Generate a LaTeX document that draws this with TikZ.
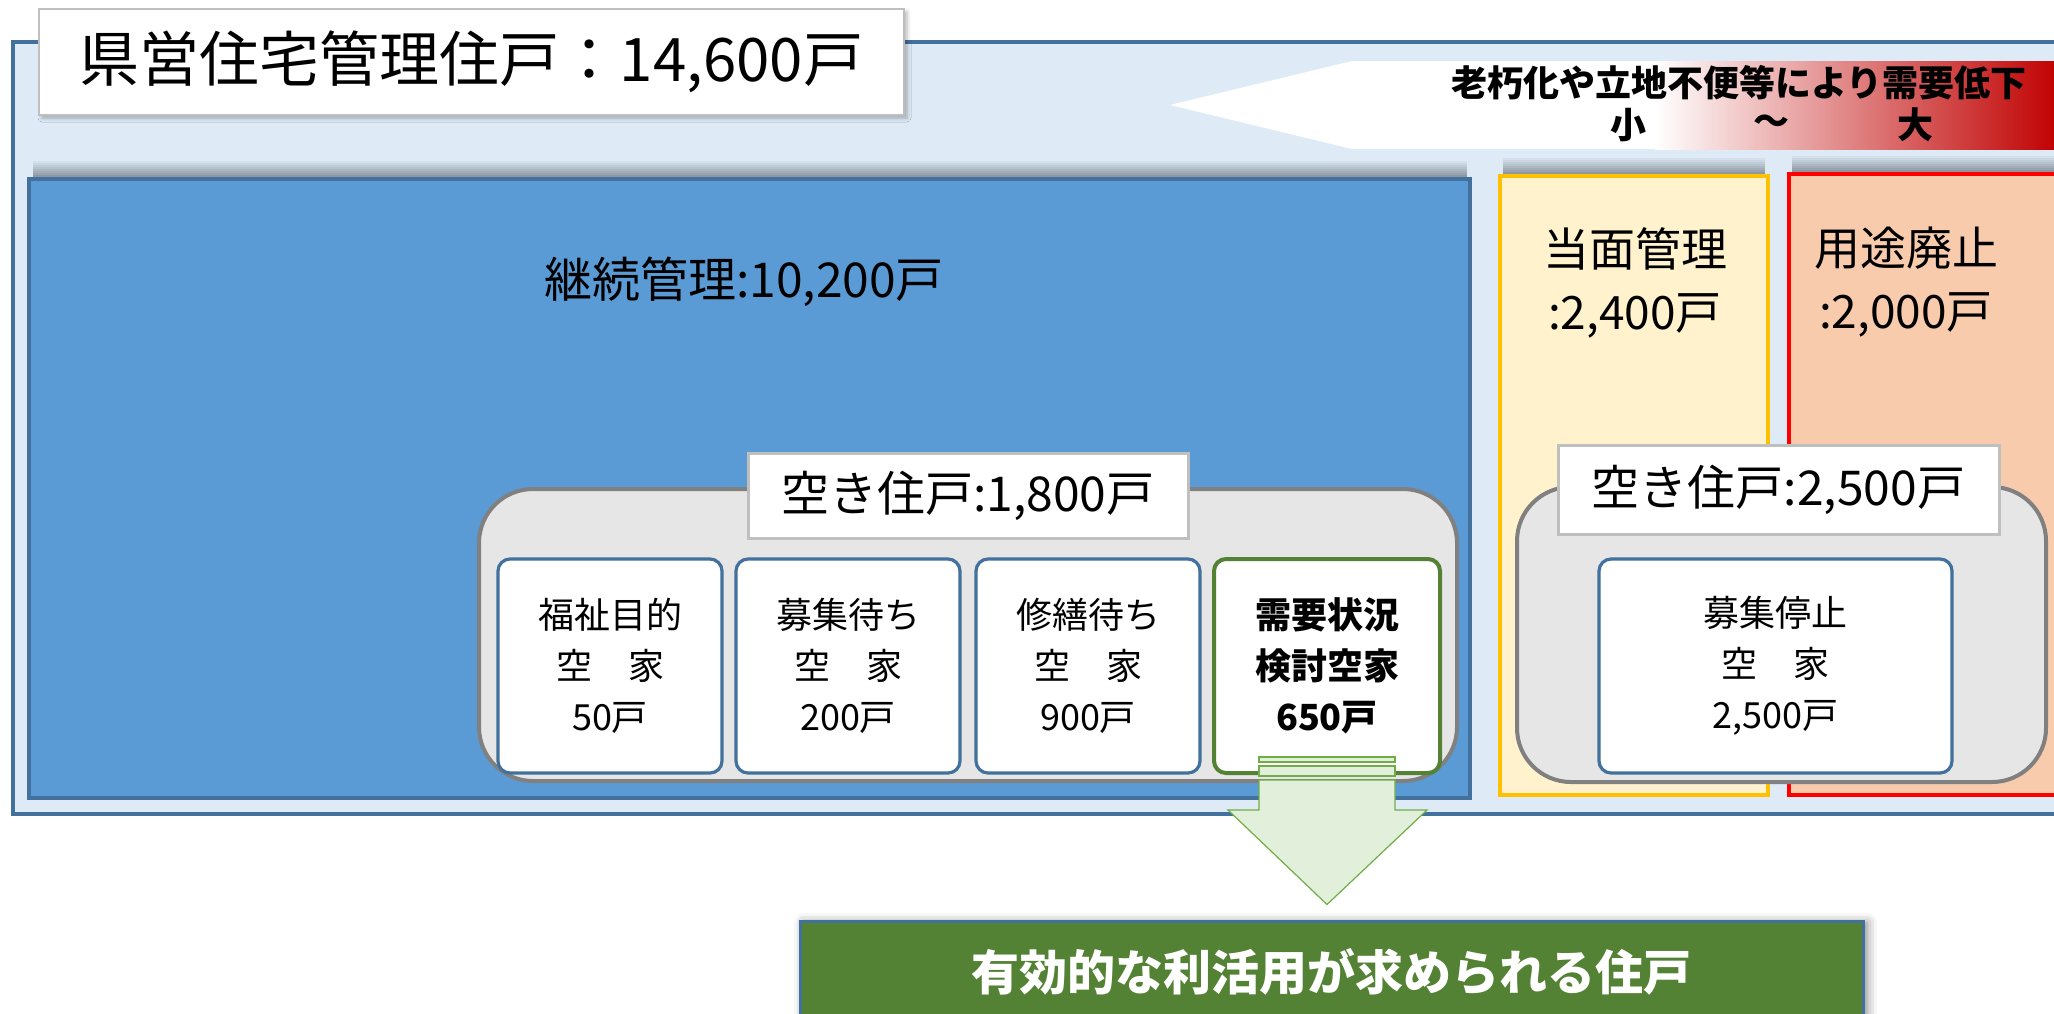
\documentclass[tikz,border=0pt]{standalone}
\usepackage{fontspec}
\setmainfont{Noto Sans CJK JP}
\usetikzlibrary{shadows.blur,calc}
\definecolor{panelfill}{HTML}{DEEBF7}
\definecolor{panelline}{HTML}{41719C}
\definecolor{bluefill}{HTML}{5B9BD5}
\definecolor{yelfill}{HTML}{FFF2CC}
\definecolor{yelline}{HTML}{FFC000}
\definecolor{redfill}{HTML}{F8CBAD}
\definecolor{redline}{HTML}{FF0000}
\definecolor{grayfill}{HTML}{E7E6E6}
\definecolor{grayline}{HTML}{808080}
\definecolor{lblline}{HTML}{BFBFBF}
\definecolor{greenline}{HTML}{548235}
\definecolor{arrowfill}{HTML}{E2EFDA}
\definecolor{arrowline}{HTML}{70AD47}
\definecolor{darkred}{HTML}{C00000}
\definecolor{shadowgray}{HTML}{838D97}
% shadow band above a box: left x, right x, top y (px)
\newcommand\myshadowband[3]{%
  \foreach \i in {0,...,8} {%
    \pgfmathtruncatemacro\pct{(\i+1)*11}%
    \fill[shadowgray!\pct!panelfill] (#1,{#3-18+2*\i}) rectangle (#2,{#3-15.5+2*\i});
  }%
}
\begin{document}
\begin{tikzpicture}[x=0.5pt,y=-0.5pt,
  topbox/.style={draw, rectangle, inner sep=0pt, line width=1.6pt},
  groupbox/.style={draw=grayline, fill=grayfill, line width=2pt, rounded corners=27pt, inner sep=0pt},
  lblbox/.style={draw=lblline, fill=white, line width=1.5pt, inner sep=0pt, font=\fontsize{24}{28}\selectfont},
  itembox/.style={draw=panelline, fill=white, line width=1.6pt, rounded corners=6pt, inner sep=0pt,
    minimum width=112pt, minimum height=107pt, align=center, font=\fontsize{18}{25.5}\selectfont},
  bigtxt/.style={font=\fontsize{23}{31.5}\selectfont, align=center},
  arrowpart/.style={fill=arrowfill, draw=arrowline, line width=0.6pt}
]
\useasboundingbox (0,0) rectangle (2054,1013);
\clip (0,0) rectangle (2054,1013);

% outer panel
\draw[fill=panelfill, draw=panelline, line width=2pt] (13,42) rectangle (2080,814);

% title
\node[draw=lblline, fill=white, line width=1pt, inner sep=0pt,
  minimum width=432.5pt, minimum height=53pt,
  blur shadow={shadow xshift=1.5pt, shadow yshift=-1.5pt, shadow blur radius=2pt, shadow opacity=30},
  font=\fontsize{30}{36}\selectfont] (title) at (471.5,62) {県営住宅管理住戸：14,600戸};

% demand arrow with gradient
\fill[white] (1170,105) -- (1352,61) -- (2060,61) -- (2060,149) -- (1352,149) -- cycle;
\shade[left color=white, right color=darkred] (1655,61) rectangle (2060,149);
\node[font=\bfseries\fontsize{18}{22}\selectfont] (demand) at (1739,83) {老朽化や立地不便等により需要低下};
\node[font=\bfseries\fontsize{18}{22}\selectfont] (small) at (1628,125) {小};
\node[font=\bfseries\fontsize{18}{22}\selectfont] (tilde) at (1771,125) {～};
\node[font=\bfseries\fontsize{18}{22}\selectfont] (large) at (1915,125) {大};

% shadows above the category boxes
\myshadowband{33}{1467}{179}
\myshadowband{1503}{1765}{176}
\myshadowband{1792}{2080}{174}

% three category boxes
\node[topbox, fill=bluefill, draw=panelline, minimum width=720.5pt, minimum height=309.5pt] (keizoku) at (749.5,488.5) {};
\node[font=\fontsize{24}{28}\selectfont] (keizokuT) at (744,282) {継続管理:10,200戸};

\node[topbox, fill=yelfill, draw=yelline, line width=2pt, minimum width=134pt, minimum height=309.5pt] (tomen) at (1634,485.5) {};
\node[bigtxt] (tomenT) at (1635,282.5) {当面管理\\:2,400戸};

\node[topbox, fill=redfill, draw=redline, line width=2pt, minimum width=145.5pt, minimum height=310.5pt] (haishi) at (1934.5,484.5) {};
\node[bigtxt] (haishiT) at (1906,282.5) {用途廃止\\:2,000戸};

% vacant group (left)
\node[groupbox, minimum width=489pt, minimum height=146pt] (akiL) at (968,635) {};
\node[lblbox, minimum width=220pt, minimum height=42.5pt] (akiLT) at (968,495.5) {空き住戸:1,800戸};
\node[itembox] (d1) at (610,666) {福祉目的\\空　家\\50戸};
\node[itembox] (d2) at (848,666) {募集待ち\\空　家\\200戸};
\node[itembox] (d3) at (1088,666) {修繕待ち\\空　家\\900戸};
\node[itembox, draw=greenline, line width=2pt, minimum width=113pt, font=\bfseries\fontsize{18}{25.5}\selectfont] (d4) at (1327,666) {需要状況\\検討空家\\650戸};

% vacant group (right)
\node[groupbox, minimum width=264.5pt, minimum height=147.5pt] (akiR) at (1781.5,634.5) {};
\node[lblbox, minimum width=220.5pt, minimum height=44.5pt] (akiRT) at (1778.5,489.5) {空き住戸:2,500戸};
\node[itembox, minimum width=176.5pt] (stop) at (1775.5,666) {募集停止\\空　家\\2,500戸};

% result box
\node[fill=greenline, draw=panelline, line width=1.5pt, inner sep=0pt,
  minimum width=531.5pt, minimum height=51pt, text=white,
  blur shadow={shadow xshift=2pt, shadow yshift=-1pt, shadow blur radius=5pt, shadow opacity=50},
  font=\bfseries\fontsize{24}{28}\selectfont] (result) at (1331.5,972) {有効的な利活用が求められる住戸};

% block arrow from d4 to result
\coordinate (apex) at ($(d4.south |- result.north)+(0,-15)$);
\draw[arrowpart] ($(d4.south)+(-68,-18)$) rectangle ($(d4.south)+(68,-13)$);
\draw[arrowpart] ($(d4.south)+(-68,-9)$) rectangle ($(d4.south)+(68,1)$);
\draw[arrowpart] ($(d4.south)+(-68,5)$) -- ($(d4.south)+(68,5)$) -- ($(d4.south)+(68,35)$)
  -- ($(d4.south)+(100,35)$) -- (apex) -- ($(d4.south)+(-99,35)$)
  -- ($(d4.south)+(-68,35)$) -- cycle;
\end{tikzpicture}
\end{document}
